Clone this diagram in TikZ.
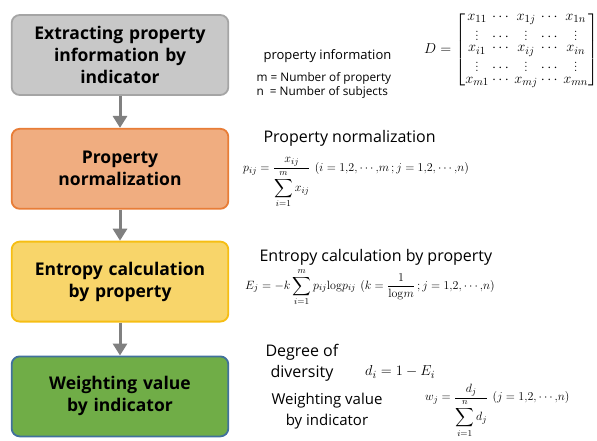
\documentclass[tikz,border=0pt]{standalone}
\usepackage{amsmath,amssymb}
\usepackage[no-math]{fontspec}
\usepackage{tikz}
\usetikzlibrary{arrows.meta,positioning}
\newfontfamily\labelfont{Open Sans}
\definecolor{stepgray}{RGB}{200,200,200}
\definecolor{stepgrayline}{RGB}{165,165,165}
\definecolor{steporange}{RGB}{240,173,128}
\definecolor{steporangeline}{RGB}{232,125,55}
\definecolor{stepyellow}{RGB}{248,213,106}
\definecolor{stepyellowline}{RGB}{246,190,20}
\definecolor{stepgreen}{RGB}{112,173,71}
\definecolor{stepgreenline}{RGB}{65,113,156}
\definecolor{arrowgray}{RGB}{128,128,128}

\begin{document}
\begin{tikzpicture}[
  x=1pt,y=-1pt,
  stepbox/.style={rectangle,rounded corners=8pt,line width=1.8pt,
    minimum width=216pt,minimum height=80pt,text width=210pt,align=center,
    font=\labelfont\bfseries\fontsize{17.5}{22}\selectfont},
  flowarr/.style={-{Triangle[length=12pt,width=14pt]},line width=3pt,draw=arrowgray},
  caption/.style={font=\labelfont\fontsize{16}{21}\selectfont,align=center},
  smallnote/.style={font=\labelfont\fontsize{11.8}{14}\selectfont,align=left},
  formula/.style={inner sep=0pt}
]
\useasboundingbox (0,0) rectangle (597,441);

% flow of steps
\node[stepbox,fill=stepgray,draw=stepgrayline] (extract) at (120,55)
  {Extracting property\\ information by\\ indicator};
\node[stepbox,fill=steporange,draw=steporangeline,below=32pt of extract] (normal)
  {Property\\ normalization};
\node[stepbox,fill=stepyellow,draw=stepyellowline,below=31pt of normal] (entropy)
  {Entropy calculation\\ by property};
\node[stepbox,fill=stepgreen,draw=stepgreenline,below=33pt of entropy] (weight)
  {Weighting value\\ by indicator};

\draw[flowarr] (extract) -- (normal);
\draw[flowarr] (normal) -- (entropy);
\draw[flowarr] (entropy) -- (weight);

% property information
\node[font=\labelfont\fontsize{13}{16}\selectfont,anchor=west] (propinfo) at (260,56) {property information};
\node[smallnote,anchor=north west] (propnote) at (253,69)
  {m = Number of property\\ n\ \ = Number of subjects};
\node[formula,anchor=west] (matD) at (424,50)
  {\fontsize{15}{17}\selectfont\setlength\arraycolsep{1.6pt}\renewcommand\arraystretch{0.7}%
  $D=\begin{bmatrix}
    x_{11}&\cdots&x_{1j}&\cdots&x_{1n}\\
    \vdots&\cdots&\vdots&\cdots&\vdots\\
    x_{i1}&\cdots&x_{ij}&\cdots&x_{in}\\
    \vdots&\cdots&\vdots&\cdots&\vdots\\
    x_{m1}&\cdots&x_{mj}&\cdots&x_{mn}
  \end{bmatrix}$};

% normalization
\node[caption,anchor=west] (normcap) at (260,138) {Property normalization};
\node[formula,anchor=west] (normeq) at (243,183)
  {\fontsize{13}{15}\selectfont$p_{ij}=\dfrac{x_{ij}}{\displaystyle\sum_{i=1}^{m}x_{ij}}\
    (i=1{,}2{,}\cdots{,}m\,;j=1{,}2{,}\cdots{,}n)$};

% entropy
\node[caption,anchor=west] (entcap) at (256,257) {Entropy calculation by property};
\node[formula,anchor=west] (enteq) at (245,287)
  {\fontsize{13}{15}\selectfont$E_j=-k\displaystyle\sum_{i=1}^{m}p_{ij}\mathrm{log}p_{ij}\
    (k=\frac{1}{\mathrm{log}m}\,;j=1{,}2{,}\cdots{,}n)$};

% diversity and weighting
\node[caption,anchor=west] (divcap) at (262,363) {Degree of\\ diversity};
\node[formula,anchor=west] (diveq) at (365,372)
  {\fontsize{15.5}{18}\selectfont$d_i=1-E_i$};
\node[caption,font=\labelfont\fontsize{15}{21}\selectfont,anchor=west] (wcap) at (268,411) {Weighting value\\ by indicator};
\node[formula,anchor=west] (weq) at (425,411)
  {\fontsize{13}{15}\selectfont$w_j=\dfrac{d_j}{\displaystyle\sum_{i=1}^{n}d_j}\
    (j=1{,}2{,}\cdots{,}n)$};
\end{tikzpicture}
\end{document}
